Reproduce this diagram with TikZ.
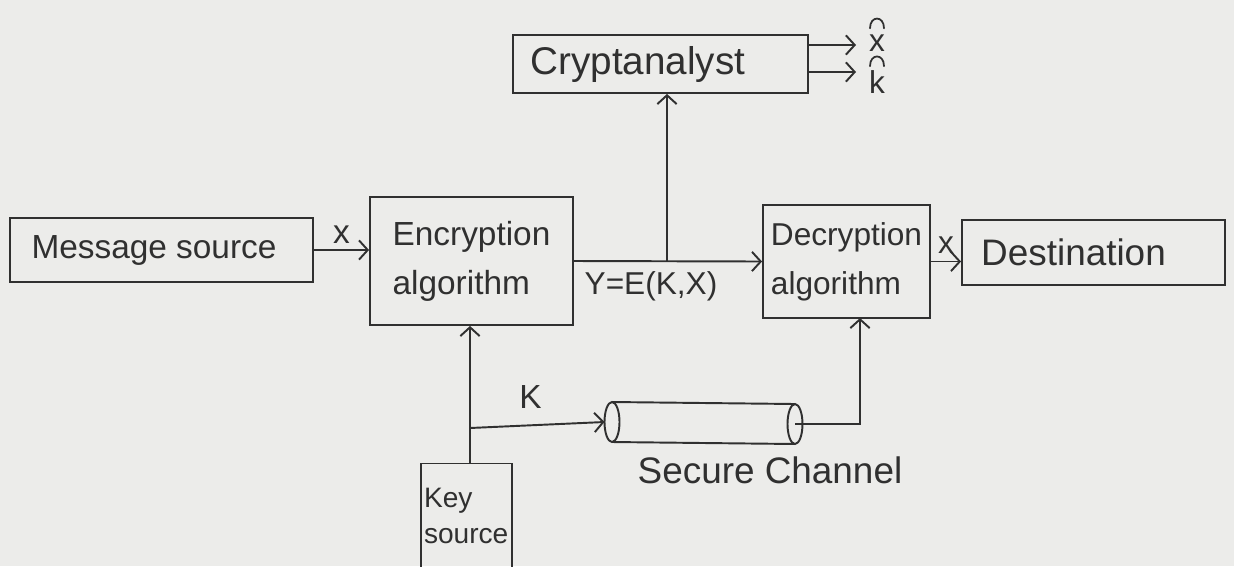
\documentclass[tikz,border=0pt]{standalone}
\usepackage{fontspec}
\setmainfont{Liberation Sans}
\usetikzlibrary{arrows.meta}
\definecolor{paper}{RGB}{236,236,234}
\definecolor{inkc}{RGB}{48,48,48}
\begin{document}
\begin{tikzpicture}[x=0.02cm,y=-0.02cm,
  ink/.style={draw=inkc, line width=1.1pt},
  box/.style={ink, rectangle, inner sep=0pt, text=inkc, align=left},
  arr/.style={ink, -{Straight Barb[length=5pt,width=11pt]}},
  lbl/.style={text=inkc, inner sep=1pt},
  hatc/.style={draw=inkc, line width=1pt, line cap=round},
  f19/.style={font=\fontsize{19}{28}\selectfont},
  f18/.style={font=\fontsize{18}{28}\selectfont},
  f21/.style={font=\fontsize{21}{26}\selectfont},
  f22/.style={font=\fontsize{22}{26}\selectfont},
  f16/.style={font=\fontsize{16}{20}\selectfont}]
\fill[paper] (0,0) rectangle (1234,566);
\useasboundingbox (0,0) rectangle (1234,566);

% boxes
\node[box,f19,minimum width=6.06cm,minimum height=1.28cm] (msg) at (161.5,250) {Message source\hspace*{0.3cm}};
\node[box,f19,minimum width=4.06cm,minimum height=2.56cm] (enc) at (471.5,261) {Encryption\\algorithm};
\node[box,f22,minimum width=5.9cm,minimum height=1.16cm] (crypt) at (660.5,64) {Cryptanalyst\hspace*{0.9cm}};
\node[box,f18,minimum width=3.34cm,minimum height=2.26cm] (dec) at (846.5,261.5) {Decryption\\algorithm};
\node[box,f21,minimum width=5.26cm,minimum height=1.3cm] (dest) at (1093.5,252.5) {Destination\hspace*{0.8cm}};
\node[box,f16,minimum width=1.82cm,minimum height=2.1cm,text width=1.7cm] (key) at (466.5,516) {Key\\source\\[10pt]};

% encryption -> decryption
\draw[arr] (msg.east) -- (msg.east -| enc.west) node[lbl,f19,midway,above=2pt] {x};
\draw[arr] (enc.east) -- (dec.west);
\node[lbl,f18] (ylab) at (651,286) {Y=E(K,X)};
\coordinate (tap) at (667,261);
\draw[arr] (tap) -- (tap |- crypt.south);

% cryptanalyst outputs
\coordinate (xo) at (856,45);
\coordinate (ko) at (856,72);
\draw[arr] (xo -| crypt.east) -- (xo);
\draw[arr] (ko -| crypt.east) -- (ko);
\node[text=inkc,inner sep=0pt,f18] (xhat) at (877,43) {x};
\node[text=inkc,inner sep=0pt,f18] (khat) at (877,82) {k};
\draw[hatc] ([xshift=-0.14cm,yshift=0.12cm]xhat.north) .. controls +(0,0.26cm) and +(0,0.26cm) .. ([xshift=0.14cm,yshift=0.12cm]xhat.north);
\draw[hatc] ([xshift=-0.14cm,yshift=0.08cm]khat.north) .. controls +(0,0.26cm) and +(0,0.26cm) .. ([xshift=0.14cm,yshift=0.08cm]khat.north);

% decryption -> destination
\draw[arr] (dec.east) -- (dec.east -| dest.west) node[lbl,f18,midway,above=3pt] {x};

% key path
\coordinate (kb) at (470,428);
\draw[arr] (kb |- key.north) -- (kb |- enc.south);
% secure channel
\coordinate (cylL) at (612,422);
\coordinate (cylR) at (795,424);
\draw[ink] (612,402) -- (795,404);
\draw[ink] (612,442) -- (795,444);
\draw[ink,fill=paper] (cylL) ellipse [x radius=0.15cm, y radius=0.4cm];
\draw[ink,fill=paper] (cylR) ellipse [x radius=0.15cm, y radius=0.4cm];
\draw[arr] (kb) -- ([xshift=-0.15cm]cylL) node[lbl,f19,pos=0.45,above=8pt] {K};
\node[lbl,f21] (sc) at (770,470) {Secure Channel};
\coordinate (decin) at (860,318);
\draw[arr] (cylR) -| (decin);
\end{tikzpicture}
\end{document}
